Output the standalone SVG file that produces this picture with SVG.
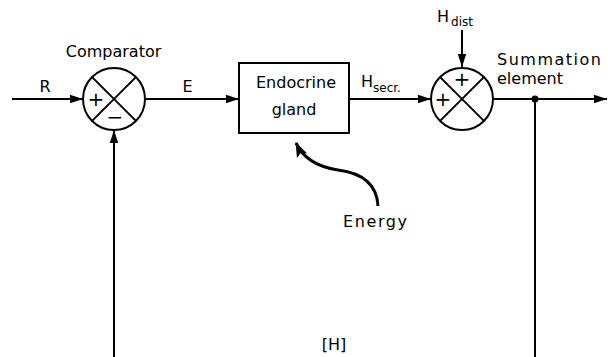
<svg xmlns="http://www.w3.org/2000/svg" width="608" height="357" viewBox="0 0 608 357">
<defs>
<marker id="ah" markerUnits="userSpaceOnUse" markerWidth="14" markerHeight="10" refX="13" refY="5" orient="auto">
<path d="M0,0.8 L13,5 L0,9.2 Z" fill="#000"/>
</marker>
<marker id="ahe" markerUnits="userSpaceOnUse" markerWidth="16" markerHeight="12" refX="14" refY="6" orient="auto">
<path d="M0,0.5 L15,6 L0,11.5 L3,6 Z" fill="#000"/>
</marker>
<style>
text{font-family:"DejaVu Sans","Liberation Sans",sans-serif;font-size:16px;fill:#000}
.sub{font-size:12px}
.sign{font-size:20px}
.ln{stroke:#000;stroke-width:2;fill:none}
.node{stroke:#000;stroke-width:2;fill:#fff}
</style>
</defs>
<rect width="608" height="357" fill="#fff"/>
<g id="connectors">
<line class="ln" x1="12" y1="99" x2="83" y2="99" marker-end="url(#ah)"/>
<line class="ln" x1="145" y1="99" x2="239" y2="99" marker-end="url(#ah)"/>
<line class="ln" x1="349" y1="99" x2="431" y2="99" marker-end="url(#ah)"/>
<line class="ln" x1="462" y1="30" x2="462" y2="67" marker-end="url(#ah)"/>
<line class="ln" x1="493" y1="99" x2="607" y2="99" marker-end="url(#ah)"/>
<line class="ln" x1="535" y1="99" x2="535" y2="357"/>
<line class="ln" x1="114" y1="357" x2="114" y2="130" marker-end="url(#ah)"/>
<circle cx="535" cy="99" r="3.5" fill="#000"/>
<path class="ln" style="stroke-width:3" d="M378,206 C377,184 362,173 338,170 C318,167 303,158 296,143" marker-end="url(#ahe)"/>
</g>
<g id="comparator">
<circle class="node" cx="114" cy="99" r="31"/>
<line class="ln" x1="92.1" y1="77.1" x2="135.9" y2="120.9"/>
<line class="ln" x1="135.9" y1="77.1" x2="92.1" y2="120.9"/>
<text class="sign" x="96" y="106" text-anchor="middle">+</text>
<text class="sign" x="115" y="124" text-anchor="middle">−</text>
<text x="113.5" y="57" text-anchor="middle">Comparator</text>
</g>
<g id="endocrine-gland">
<rect class="node" x="239" y="63" width="110" height="70"/>
<text x="296" y="88" text-anchor="middle">Endocrine</text>
<text x="294" y="115" text-anchor="middle">gland</text>
</g>
<g id="summation">
<circle class="node" cx="462" cy="99" r="31"/>
<line class="ln" x1="440.1" y1="77.1" x2="483.9" y2="120.9"/>
<line class="ln" x1="483.9" y1="77.1" x2="440.1" y2="120.9"/>
<text class="sign" x="462" y="86" text-anchor="middle">+</text>
<text class="sign" x="443" y="106" text-anchor="middle">+</text>
<text x="497" y="65" textLength="104" lengthAdjust="spacing">Summation</text>
<text x="497" y="84">element</text>
</g>
<g id="labels">
<text x="45" y="92" text-anchor="middle">R</text>
<text x="187.5" y="92" text-anchor="middle">E</text>
<text x="361" y="87">H<tspan class="sub" dy="5">secr.</tspan></text>
<text x="437" y="22">H<tspan class="sub" dx="2" dy="4">dist</tspan></text>
<text x="343" y="227" textLength="64" lengthAdjust="spacing">Energy</text>
<text x="334" y="350" text-anchor="middle">[H]</text>
</g>
</svg>
